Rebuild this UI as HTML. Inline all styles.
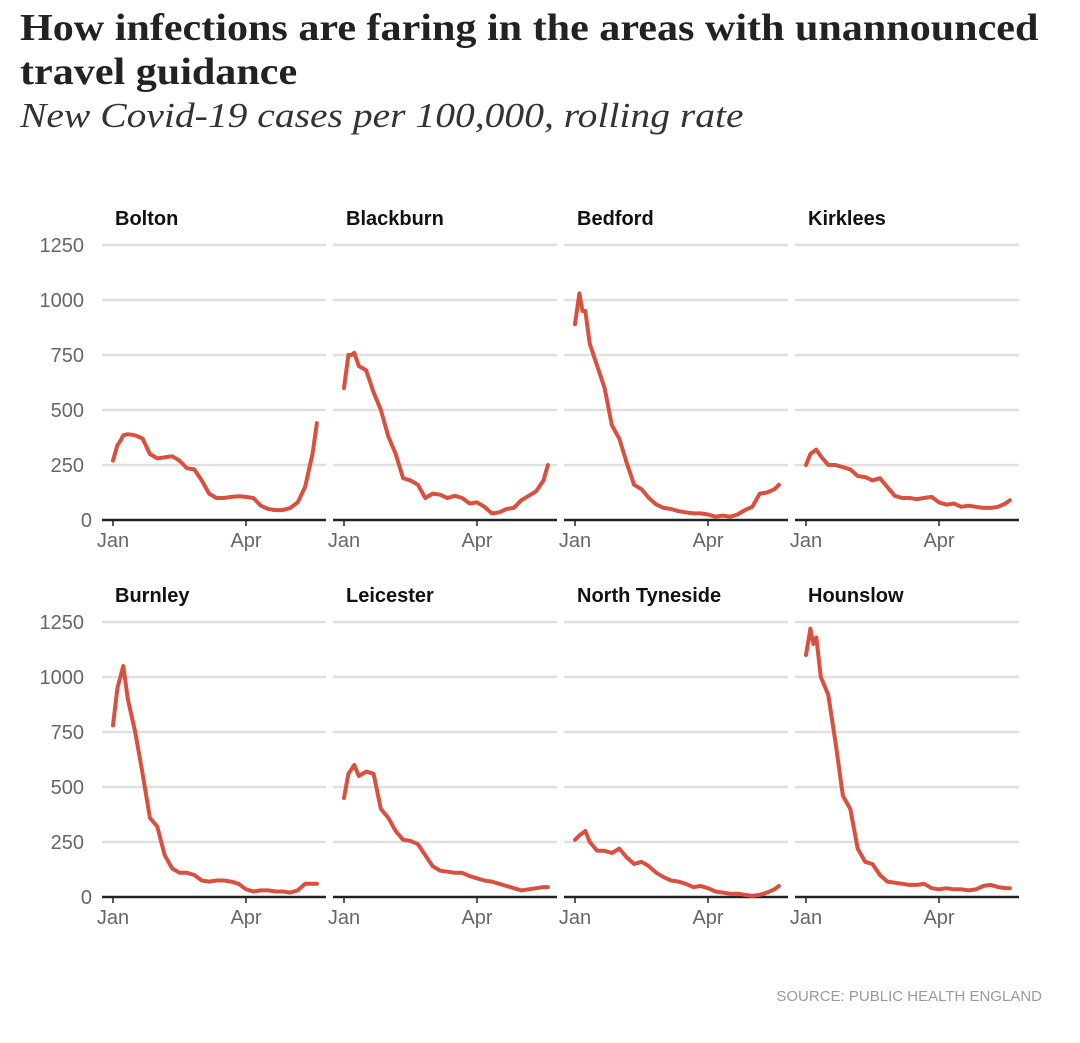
<!DOCTYPE html>
<html><head><meta charset="utf-8"><style>
body{margin:0;background:#fff;width:1080px;height:1043px;overflow:hidden;font-family:"Liberation Sans",sans-serif}
h1{position:absolute;left:20px;top:6px;margin:0;font:bold 38px/44px "Liberation Serif",serif;color:#222;transform:scaleX(1.108);transform-origin:0 0;white-space:nowrap}
h2{position:absolute;left:20px;top:96px;margin:0;font:italic 35px/40px "Liberation Serif",serif;color:#333;font-weight:normal;transform:scaleX(1.13);transform-origin:0 0;white-space:nowrap}
.src{position:absolute;right:38px;top:988px;font:15px "Liberation Sans Narrow","Liberation Sans",sans-serif;color:#999}
</style></head><body>
<h1>How infections are faring in the areas with unannounced<br>travel guidance</h1>
<h2>New Covid-19 cases per 100,000, rolling rate</h2>
<svg id="c" width="1080" height="1043" style="position:absolute;left:0;top:0"></svg>
<div class="src">SOURCE: PUBLIC HEALTH ENGLAND</div>
<script>
const names=["Bolton","Blackburn","Bedford","Kirklees","Burnley","Leicester","North Tyneside","Hounslow"];
const days=[0,3,5,7,10,15,20,25,30,35,40,45,50,55,60,65,70,75,80,85,90,95,100,105,110,115,120,125,130,135,138];
const bolton=[270,340,360,385,390,385,370,300,280,285,290,270,235,230,180,120,100,100,105,108,105,100,65,50,45,45,55,80,150,300,440];
const blackburn=[600,750,750,760,700,680,580,500,380,300,190,180,160,100,120,115,100,110,100,75,80,60,30,35,50,55,90,110,130,180,250];
const bedford=[890,1030,950,950,800,700,600,430,370,260,160,140,100,70,55,50,40,35,30,30,25,15,20,15,25,45,60,120,125,140,160];
const kirklees=[250,300,310,320,290,250,250,240,230,200,195,180,190,150,110,100,100,95,100,105,80,70,75,60,65,60,55,55,60,75,90];
const burnley=[780,950,1000,1050,900,750,560,360,320,190,130,110,110,100,75,70,75,75,70,60,35,25,30,30,25,25,20,30,60,60,60];
const leicester=[450,560,580,600,550,570,560,400,360,300,260,255,240,190,140,120,115,110,110,95,85,75,70,60,50,40,30,35,40,45,45];
const northTyneside=[260,280,290,300,250,210,210,200,220,180,150,160,140,110,90,75,70,60,45,50,40,25,20,15,15,10,5,10,20,35,50];
const hounslow=[1100,1220,1150,1180,1000,920,700,460,400,220,160,150,100,70,65,60,55,55,60,40,35,40,35,35,30,35,50,55,45,40,40];
const series=[bolton,blackburn,bedford,kirklees,burnley,leicester,northTyneside,hounslow];
const yTicks=[0,250,500,750,1000,1250];
const xTickDays=[0,90];const xTickLabels=["Jan","Apr"];
const NS="http://www.w3.org/2000/svg",svg=document.getElementById('c');
function mk(t,a,p){const e=document.createElementNS(NS,t);for(const k in a)e.setAttribute(k,a[k]);(p||svg).appendChild(e);return e;}
const rowBase=[520,897],pxPer=(520-245)/1250,colX=[102,333,564,795],panW=224;
function yS(r,v){return rowBase[r]-v*pxPer;}
function xS(c,d){return colX[c]+11+d*(133/90);}
for(let r=0;r<2;r++){
  yTicks.forEach(t=>{const tx=mk('text',{x:t==0?92:84,y:yS(r,t)+7,'text-anchor':'end','font-size':20,fill:'#666','font-family':'"Liberation Sans Narrow","Liberation Sans",sans-serif'});
  
  
  tx.textContent=t;});
}
series.forEach((vals,i)=>{
  const r=Math.floor(i/4),c=i%4;
  const g=mk('g',{});
  
  
  yTicks.forEach(t=>{if(t>0){const l=mk('line',{x1:colX[c],x2:colX[c]+panW,y1:yS(r,t),y2:yS(r,t),stroke:'#e0e0e0','stroke-width':2.5},g);
    
    }});
  const b=mk('line',{x1:colX[c],x2:colX[c]+panW,y1:yS(r,0),y2:yS(r,0),stroke:'#222','stroke-width':2.5},g);
  
  
  xTickDays.forEach((d,k)=>{const x=xS(c,d);
    mk('line',{x1:x,x2:x,y1:yS(r,0),y2:yS(r,0)+6,stroke:'#222','stroke-width':1.5},g);
    const tx=mk('text',{x:x,y:yS(r,0)+27,'text-anchor':'middle','font-size':20,fill:'#666','font-family':'"Liberation Sans Narrow","Liberation Sans",sans-serif'},g);
    
    
    tx.textContent=xTickLabels[k];});
  const t=mk('text',{x:colX[c]+13,y:yS(r,1250)-20,'font-size':20,'font-weight':'bold',fill:'#111','font-family':'"Liberation Sans Narrow","Liberation Sans",sans-serif'},g);
  
  
  t.textContent=names[i];
  const p=mk('path',{d:vals.map((v,k)=>(k?'L':'M')+xS(c,days[k]).toFixed(1)+','+yS(r,v).toFixed(1)).join(''),fill:'none',stroke:'#d9503f','stroke-width':4,'stroke-linejoin':'round','stroke-linecap':'round'},g);
  
  
});
</script>
</body></html>
